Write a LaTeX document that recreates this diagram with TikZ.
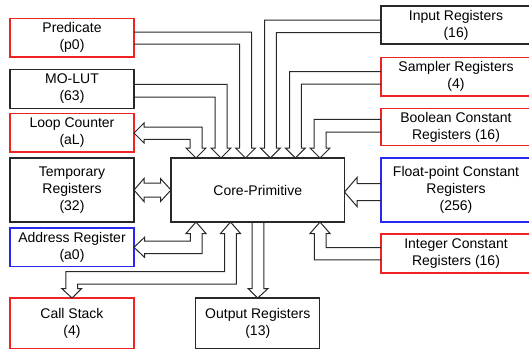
\documentclass[tikz,border=0pt]{standalone}
\usepackage{fontspec}
\setmainfont{Liberation Sans}
\definecolor{boxred}{RGB}{240,35,35}
\definecolor{boxblue}{RGB}{40,40,240}
\definecolor{boxblack}{RGB}{40,40,40}
\definecolor{linegray}{RGB}{40,40,40}
\begin{document}
\begin{tikzpicture}[x=1pt,y=-1pt,
  box/.style={draw, line width=1.1pt, outer sep=0pt, inner sep=0pt, align=center,
    font=\fontsize{14}{17}\selectfont},
  sz/.style 2 args={minimum width=#1pt, minimum height=#2pt},
  rbox/.style={box, draw=boxred},
  bbox/.style={box, draw=boxblue},
  kbox/.style={box, draw=boxblack},
  blk/.style={draw=linegray, line width=1pt, line join=miter}
]
\useasboundingbox (0,0) rectangle (529,349);
\clip (0,0) rectangle (529,349);

% left column
\node[rbox, sz={124}{38.5}] (pred)  at (72,37.75)  {Predicate\\(p0)};
\node[kbox, sz={124}{39}]   (molut) at (72,89)     {MO-LUT\\(63)};
\node[rbox, sz={124}{38.5}] (loop)  at (72,132.75) {Loop Counter\\(aL)};
\node[kbox, sz={124}{64}]   (temp)  at (72,190)    {Temporary\\Registers\\(32)};
\node[bbox, sz={124}{38.5}] (addr)  at (72,247.25) {Address Register\\(a0)};
\node[rbox, sz={124}{50.5}] (call)  at (72,323.25) {Call Stack\\(4)};
% centre
\node[kbox, sz={173.5}{64}] (core)  at (257.75,190) {Core-Primitive};
\node[kbox, sz={124}{50.5}] (out)   at (257.75,323.25) {Output Registers\\(13)};
% right column
\node[kbox, sz={150}{38}]   (inreg) at (456,25)    {Input Registers\\(16)};
\node[rbox, sz={150}{38.5}] (samp)  at (456,76.75) {Sampler Registers\\(4)};
\node[rbox, sz={150}{37}]   (bool)  at (456,127)   {Boolean Constant\\Registers (16)};
\node[bbox, sz={150}{64}]   (float) at (456,190)   {Float-point Constant\\Registers\\(256)};
\node[rbox, sz={150}{39}]   (intc)  at (456,253.5) {Integer Constant\\Registers (16)};

% Loop counter <-> core
\draw[blk] (loop.east |- 0,133) -- (144,123) -- (144,127) -- (202,127) -- (202,148) -- (206,148)
  -- (196,0 |- core.north) -- (186,148) -- (190,148) -- (190,139.3) -- (144,139.3) -- (144,143) -- cycle;
% MO-LUT -> core
\draw[blk] (molut.east |- 0,84.3) -- (227,84.3) -- (227,148) -- (231,148) -- (221,0 |- core.north)
  -- (211,148) -- (215,148) -- (215,97) -- (molut.east |- 0,97);
% Predicate -> core
\draw[blk] (pred.east |- 0,32) -- (251.5,32) -- (251.5,148) -- (255.5,148) -- (245.5,0 |- core.north)
  -- (235.5,148) -- (239.5,148) -- (239.5,44) -- (pred.east |- 0,44);
% Input -> core
\draw[blk] (inreg.west |- 0,20.2) -- (264.5,20.2) -- (264.5,148) -- (260.4,148) -- (270.4,0 |- core.north)
  -- (280.4,148) -- (276.3,148) -- (276.3,32.5) -- (inreg.west |- 0,32.5);
% Sampler -> core
\draw[blk] (samp.west |- 0,71.5) -- (289.5,71.5) -- (289.5,148) -- (285.4,148) -- (295.4,0 |- core.north)
  -- (305.4,148) -- (301.3,148) -- (301.3,84) -- (samp.west |- 0,84);
% Boolean -> core
\draw[blk] (bool.west |- 0,119.4) -- (314,119.4) -- (314,148) -- (310,148) -- (320,0 |- core.north)
  -- (330,148) -- (326,148) -- (326,132) -- (bool.west |- 0,132);
% Float -> core
\draw[blk] (float.west |- 0,183.5) -- (357,183.5) -- (357,177.5) -- (core.east |- 0,192)
  -- (357,206.5) -- (357,200.5) -- (float.west |- 0,200.5);
% Temporary <-> core
\draw[blk] (temp.east |- 0,190) -- (144,178.5) -- (144,183) -- (160.5,183) -- (160.5,178.5)
  -- (core.west |- 0,190) -- (160.5,201.5) -- (160.5,197) -- (144,197) -- (144,201.5) -- cycle;
% Address <-> core
\draw[blk] (addr.east |- 0,247.3) -- (144.5,237.3) -- (144.5,241) -- (190.3,241) -- (190.3,233.5)
  -- (186,233.5) -- (196,0 |- core.south) -- (206,233.5) -- (202,233.5) -- (202,253.7)
  -- (144.5,253.7) -- (144.5,257.3) -- cycle;
% Call stack <-> core
\draw[blk] (230.5,0 |- core.south) -- (240.5,233.5) -- (236.3,233.5) -- (236.3,284) -- (77.6,284)
  -- (77.6,288.5) -- (81.7,288.5) -- (call.north) -- (61.7,288.5) -- (65.8,288.5) -- (65.8,271.6)
  -- (224.5,271.6) -- (224.5,233.5) -- (220.5,233.5) -- cycle;
% core -> Output
\draw[blk] (252,0 |- core.south) -- (252,288.5) -- (248,288.5) -- (out.north) -- (268,288.5)
  -- (263.8,288.5) -- (263.8,0 |- core.south);
% Integer -> core
\draw[blk] (intc.west |- 0,247.7) -- (326,247.7) -- (326,233.5) -- (330,233.5) -- (320,0 |- core.south)
  -- (310,233.5) -- (314.3,233.5) -- (314.3,259.8) -- (intc.west |- 0,259.8);
\end{tikzpicture}
\end{document}
